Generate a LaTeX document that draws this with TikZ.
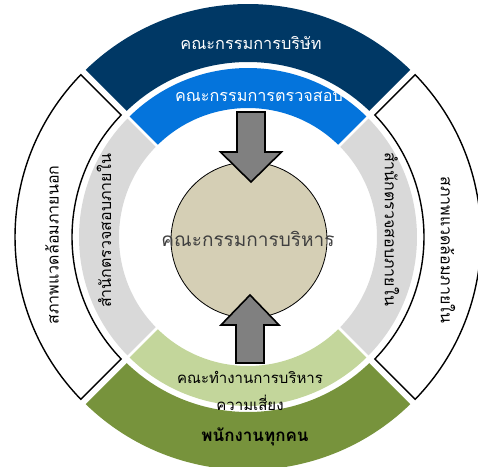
\documentclass[tikz,border=0pt]{standalone}
\usepackage{fontspec}
\newfontfamily\thai[Script=Thai]{Loma}
\definecolor{dblue}{HTML}{003865}
\definecolor{lblue}{HTML}{0474DC}
\definecolor{lgray}{HTML}{D9D9D9}
\definecolor{lgreen}{HTML}{C3D69B}
\definecolor{dgreen}{HTML}{77933C}
\definecolor{tan}{HTML}{D5CFB5}
\definecolor{ctext}{HTML}{404040}
\newcommand\ringseg[6]{%
  \pgfmathsetmacro\aO{#2+asin(#6/#5)}\pgfmathsetmacro\bO{#3-asin(#6/#5)}%
  \pgfmathsetmacro\aI{#2+asin(#6/#4)}\pgfmathsetmacro\bI{#3-asin(#6/#4)}%
  \path[#1] (\aO:#5pt) arc[start angle=\aO, end angle=\bO, radius=#5pt]
    -- (\bI:#4pt) arc[start angle=\bI, end angle=\aI, radius=#4pt] -- cycle;}
\tikzset{
  outlined/.style={draw=black, line width=1.4pt, fill=white},
  lbl/.style={font=\thai\fontsize{16}{18}\selectfont, inner sep=0pt},
  blockarrow/.style={draw=black, line width=1.6pt, fill=black!50, line join=miter},
}
\begin{document}
\begin{tikzpicture}[x=1pt,y=1pt]
\useasboundingbox (-248,-229) rectangle (230,237);
% outer ring
\ringseg{fill=dblue}{45}{135}{175}{233}{3.5}
\ringseg{outlined}{-45}{45}{176}{233}{3.5}
\ringseg{fill=dgreen}{-135}{-45}{175}{233}{3.5}
\ringseg{outlined}{135}{225}{176}{233}{3.5}
% inner ring
\ringseg{fill=lblue}{45}{135}{129}{169}{1.5}
\ringseg{fill=lgray}{-45}{45}{129}{169}{1.5}
\ringseg{fill=lgreen}{-135}{-45}{129}{169}{1.5}
\ringseg{fill=lgray}{135}{225}{129}{169}{1.5}
% centre circle
\node[circle, draw=black, line width=0.8pt, fill=tan, minimum size=156pt, inner sep=0pt] (core) at (1,-3) {};
% arrows
\path[blockarrow] (-11,125) -- (17,125) -- (17,85) -- (33.5,85) -- (3,55) -- (-27.5,85) -- (-11,85) -- cycle;
\path[blockarrow] (-12,-126) -- (16,-126) -- (16,-88) -- (31,-88) -- (2,-58) -- (-27,-88) -- (-12,-88) -- cycle;
% labels
\node[lbl, text=white, font=\thai\fontsize{16.3}{18}\selectfont] (board) at (3,194) {คณะกรรมการบริษัท};
\node[lbl, text=white, font=\thai\fontsize{16.2}{18}\selectfont] (audit) at (11,140) {คณะกรรมการตรวจสอบ};
\node[lbl, rotate=90] (extl) at (-196,-8) {สภาพแวดล้อมภายนอก};
\node[lbl, rotate=90] (ial) at (-144,6) {สำนักตรวจสอบภายใน};
\node[lbl, rotate=-90] (iar) at (144,8) {สำนักตรวจสอบภายใน};
\node[lbl, rotate=-90] (intr) at (200,-13) {สภาพแวดล้อมภายใน};
\node[lbl, text=ctext, font=\thai\fontsize{19}{22}\selectfont] (exec) at (0,-2) {คณะกรรมการบริหาร};
\node[lbl, font=\thai\fontsize{15}{17}\selectfont] (risk1) at (2,-140) {คณะทำงานการบริหาร};
\node[lbl, font=\thai\fontsize{15}{17}\selectfont] (risk2) at (2,-166) {ความเสี่ยง};
\node[lbl, font=\thai\bfseries\fontsize{17}{19}\selectfont] (staff) at (7,-200) {พนักงานทุกคน};
\end{tikzpicture}
\end{document}
